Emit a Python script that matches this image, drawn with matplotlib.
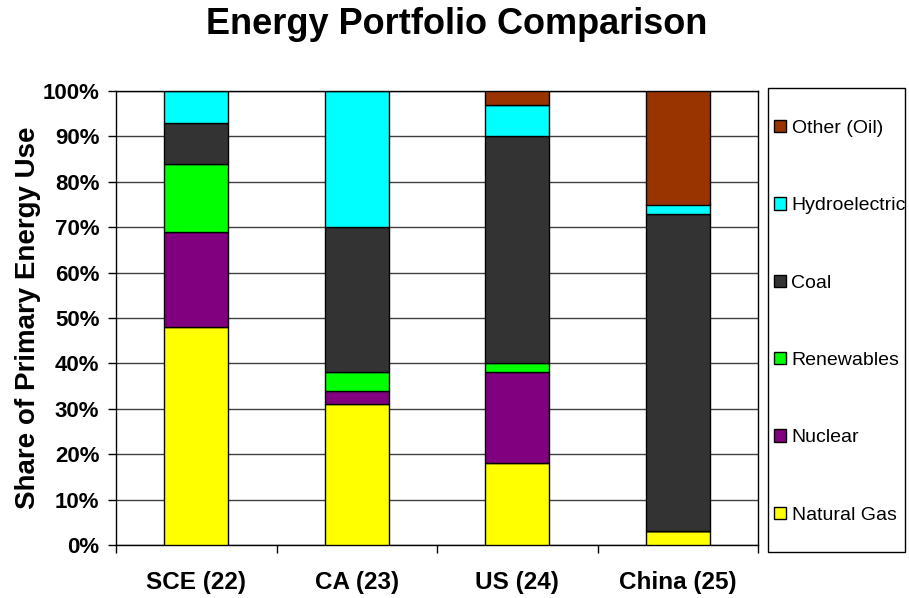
import matplotlib
matplotlib.use("Agg")
import matplotlib.pyplot as plt
import numpy as np
from matplotlib.patches import Rectangle
from matplotlib.ticker import PercentFormatter, FixedLocator

plt.rcParams['font.family'] = ['Liberation Sans', 'DejaVu Sans']

regions = ["SCE (22)", "CA (23)", "US (24)", "China (25)"]
natural_gas = [48, 31, 18, 3]
nuclear = [21, 3, 20, 0]
renewables = [15, 4, 2, 0]
coal = [9, 32, 50, 70]
hydroelectric = [7, 30, 7, 2]
other_oil = [0, 0, 3, 25]

series = [
    ("Natural Gas", natural_gas, "#FFFF00"),
    ("Nuclear", nuclear, "#800080"),
    ("Renewables", renewables, "#00FF00"),
    ("Coal", coal, "#333333"),
    ("Hydroelectric", hydroelectric, "#00FFFF"),
    ("Other (Oil)", other_oil, "#993300"),
]

W, H = 909, 598
fig = plt.figure(figsize=(W / 100, H / 100), dpi=100)
ax = fig.add_axes([116 / W, 53 / H, 642 / W, 454 / H])

x = np.arange(len(regions))
bottom = np.zeros(len(regions))
handles = []
for name, vals, color in series:
    vals = np.array(vals, dtype=float)
    b = ax.bar(x, vals, 0.4, bottom=bottom, color=color, edgecolor="black",
               linewidth=1, label=name, zorder=3)
    handles.append(b)
    bottom += vals

ax.set_xlim(-0.5, len(regions) - 0.5)
ax.set_ylim(0, 100)
ax.yaxis.set_major_locator(FixedLocator(np.arange(0, 101, 10)))
ax.yaxis.set_major_formatter(PercentFormatter(decimals=0))
ax.grid(axis="y", color="#404040", linewidth=1, zorder=0)

ax.set_xticks(x)
ax.set_xticklabels(regions, fontsize=17.5, fontweight="bold")
ax.tick_params(axis="x", which="major", length=0, pad=19)
ax.set_xticks(np.arange(-0.5, len(regions), 1), minor=True)
ax.tick_params(axis="x", which="minor", length=6, width=1, color="black")
ax.tick_params(axis="y", length=6, width=1, labelsize=16, pad=6)
for lbl in ax.get_yticklabels():
    lbl.set_fontweight("bold")

for side in ["left", "bottom", "top", "right"]:
    ax.spines[side].set_color("black")
    ax.spines[side].set_linewidth(1)

ax.set_ylabel("Share of Primary Energy Use", fontsize=20, fontweight="bold")
ax.yaxis.set_label_coords((41 - 116) / 642, 0.5)

fig.text(457 / W, 1 - 34 / H, "Energy Portfolio Comparison", fontsize=26,
         fontweight="bold", ha="center", va="baseline")

# legend frame drawn as its own box, entries placed inside it
fig.patches.append(Rectangle((768 / W, 46 / H), 137 / W, 464 / H,
                             transform=fig.transFigure, facecolor="white",
                             edgecolor="black", linewidth=1, zorder=1))
leg = fig.legend(handles[::-1], [s[0] for s in series][::-1],
                 loc="upper left", bbox_to_anchor=(774 / W, 1 - 120 / H),
                 fontsize=14, frameon=False, borderaxespad=0, borderpad=0,
                 labelspacing=3.1, handlelength=0.6, handleheight=0.6,
                 handletextpad=0.3)
leg.set_zorder(2)

fig.savefig("out.png", dpi=100)
